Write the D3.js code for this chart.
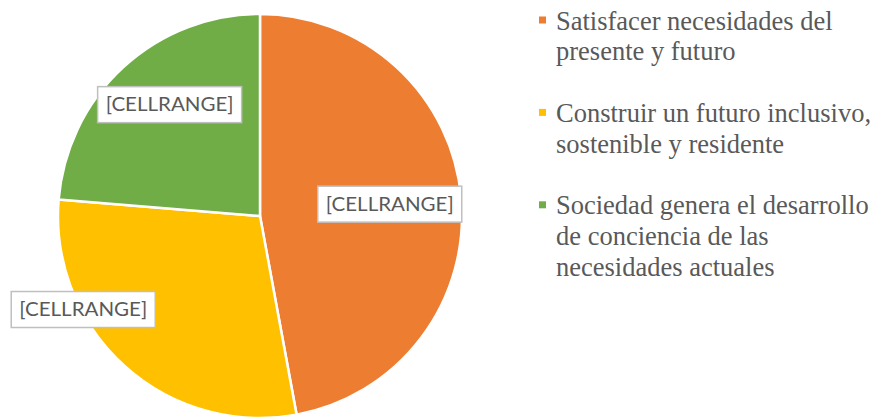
<!DOCTYPE html>
<html>
<head>
<meta charset="utf-8">
<style>
html, body { margin: 0; padding: 0; background: #fff; }
svg { display: block; }
</style>
<script src="https://cdn.jsdelivr.net/npm/d3@7"></script>
</head>
<body>
<div id="chart"></div>
<script>
// data
var categories = [
  "Satisfacer necesidades del presente y futuro",
  "Construir un futuro inclusivo, sostenible y residente",
  "Sociedad genera el desarrollo de conciencia de las necesidades actuales"
];
var values = [47.1, 29.2, 23.7];
var labelText = ["[CELLRANGE]", "[CELLRANGE]", "[CELLRANGE]"];
var legendLines = [
  ["Satisfacer necesidades del", "presente y futuro"],
  ["Construir un futuro inclusivo,", "sostenible y residente"],
  ["Sociedad genera el desarrollo", "de conciencia de las", "necesidades actuales"]
];
var colors = ["#ED7D31", "#FFC000", "#70AD47"];

var w = 878, h = 417;
var cx = 260, cy = 216, r = 202;

// "best fit" nudges for the data labels (radius fraction, extra angle in deg)
var labelFit = [{k: 0.645, da: 0}, {k: 0.99, da: 20}, {k: 0.71, da: 3.6}];

var svg = d3.select("#chart").append("svg")
  .attr("width", w)
  .attr("height", h);

var pie = d3.pie().sort(null).value(function(d) { return d; });
var arcs = pie(values);

var arc = d3.arc().innerRadius(0).outerRadius(r);

var g = svg.append("g").attr("transform", "translate(" + cx + "," + cy + ")");

g.selectAll("path.slice")
  .data(arcs)
  .enter().append("path")
    .attr("class", "slice")
    .attr("d", arc)
    .style("fill", function(d, i) { return colors[i]; })
    .style("stroke", "#fff")
    .style("stroke-width", 2.5)
    .style("stroke-linejoin", "round");

// data labels
var lab = g.selectAll("g.lab")
  .data(arcs)
  .enter().append("g")
    .attr("class", "lab")
    .attr("transform", function(d, i) {
      var a = (d.startAngle + d.endAngle) / 2 + labelFit[i].da * Math.PI / 180;
      var rr = r * labelFit[i].k;
      return "translate(" + (Math.sin(a) * rr) + "," + (-Math.cos(a) * rr) + ")";
    });

lab.append("rect")
  .attr("x", -72).attr("y", -18)
  .attr("width", 144).attr("height", 36)
  .style("fill", "#fff")
  .style("stroke", "#bfbfbf")
  .style("stroke-width", 1.5);

lab.append("text")
  .attr("text-anchor", "middle")
  .attr("dy", "0.35em")
  .attr("textLength", 128)
  .attr("lengthAdjust", "spacingAndGlyphs")
  .style("font-family", "Lato, 'Open Sans', sans-serif")
  .style("font-size", "19px")
  .style("fill", "#595959")
  .text(function(d, i) { return labelText[i]; });

// legend
var lineH = 30.7, itemGap = 31, lx = 556, ly = 29.5;
var legend = svg.append("g");
var y = ly;
legendLines.forEach(function(lines, i) {
  var item = legend.append("g").attr("transform", "translate(0," + y + ")");
  item.append("rect")
    .attr("x", lx - 17).attr("y", -13)
    .attr("width", 7).attr("height", 7)
    .style("fill", colors[i]);
  var t = item.append("text")
    .style("font-family", "'Liberation Serif', 'Times New Roman', serif")
    .style("font-size", "26.5px")
    .style("fill", "#595959");
  t.selectAll("tspan")
    .data(lines)
    .enter().append("tspan")
      .attr("x", lx)
      .attr("y", function(d, j) { return j * lineH; })
      .text(function(d) { return d; });
  y += lines.length * lineH + itemGap;
});
</script>
</body>
</html>
